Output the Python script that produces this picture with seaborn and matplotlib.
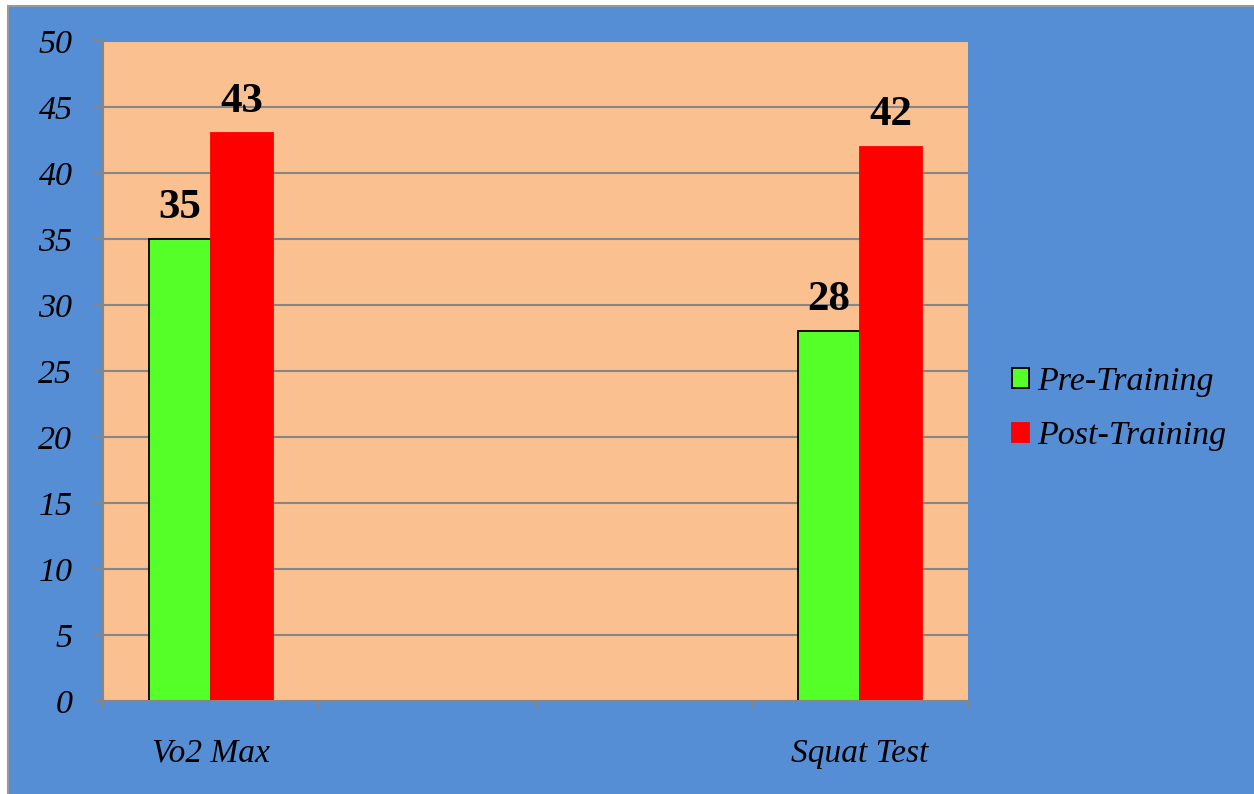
import pandas as pd
import matplotlib.pyplot as plt
import seaborn as sns
from matplotlib.patches import Rectangle
from matplotlib.ticker import FixedLocator

sns.set_theme(style="white")
plt.rcParams['font.family'] = ['Liberation Serif', 'DejaVu Serif']
plt.rcParams['text.color'] = 'black'
plt.rcParams['xtick.labelcolor'] = 'black'
plt.rcParams['ytick.labelcolor'] = 'black'

tests = ["Vo2 Max", "Squat Test"]
slots = ["Vo2 Max", " ", "  ", "Squat Test"]
phases = ["Pre-Training", "Post-Training"]
pre_values = [35, 28]
post_values = [43, 42]
colors = ["#55FF28", "#FF0000"]
edges = ["black", "#FF0000"]

df = pd.DataFrame({
    "test": tests * 2,
    "phase": [phases[0]] * 2 + [phases[1]] * 2,
    "value": pre_values + post_values,
})

fig = plt.figure(figsize=(12.54, 7.94), dpi=100, facecolor="white")
fig.patches.append(Rectangle((8 / 1254, -0.01), 1.0, 1 - 6 / 794 + 0.01,
                             transform=fig.transFigure, facecolor="#558ED5",
                             edgecolor="#9a9a9a", linewidth=1.5, zorder=-10))
ax = fig.add_axes([103 / 1254, 1 - 701 / 794, 865 / 1254, 660 / 794])
ax.set_facecolor("#FAC090")

sns.barplot(data=df, x="test", y="value", hue="phase", order=slots,
            hue_order=phases, palette=colors, width=0.574, gap=0,
            saturation=1, ax=ax, legend=True)

for cont, ec in zip(ax.containers, edges):
    for bar in cont:
        bar.set_edgecolor(ec)
        bar.set_linewidth(1.3)
    ax.bar_label(cont, padding=9, fontsize=31, fontweight="bold")

ax.set_ylim(0, 50)
ax.set_xlim(-0.5, 3.5)
ax.set_yticks(range(0, 51, 5))
ax.yaxis.grid(True, color="#868686", linewidth=1.5)
ax.set_axisbelow(True)
ax.tick_params(axis="y", which="major", left=True, length=7, width=1.5,
               color="#868686", labelsize=24.5, pad=15)
for t in ax.get_yticklabels():
    t.set_fontstyle("italic")
ax.tick_params(axis="x", which="major", bottom=False, labelsize=24, pad=21)
for t in ax.get_xticklabels():
    t.set_fontstyle("italic")
ax.xaxis.set_minor_locator(FixedLocator([-0.5, 0.5, 1.5, 2.5, 3.5]))
ax.tick_params(axis="x", which="minor", bottom=True, length=6, width=1.5,
               color="#868686")
ax.set_xlabel("")
ax.set_ylabel("")

for side in ["top", "right"]:
    ax.spines[side].set_visible(False)
for side in ["left", "bottom"]:
    ax.spines[side].set_color("#868686")
    ax.spines[side].set_linewidth(1.5)

handles, labels = ax.get_legend_handles_labels()
ax.get_legend().remove()
for h, ec in zip(handles, edges):
    h.set_edgecolor(ec)
    h.set_linewidth(1.3)
leg = fig.legend(handles, labels, loc="center left",
                 bbox_to_anchor=(1012 / 1254, 1 - 409 / 794), frameon=False,
                 prop={"style": "italic", "size": 24.5}, handlelength=0.5,
                 handleheight=0.5, handletextpad=0.25, labelspacing=0.7,
                 borderpad=0, borderaxespad=0)

plt.savefig("out.png", dpi=100, facecolor=fig.get_facecolor())
